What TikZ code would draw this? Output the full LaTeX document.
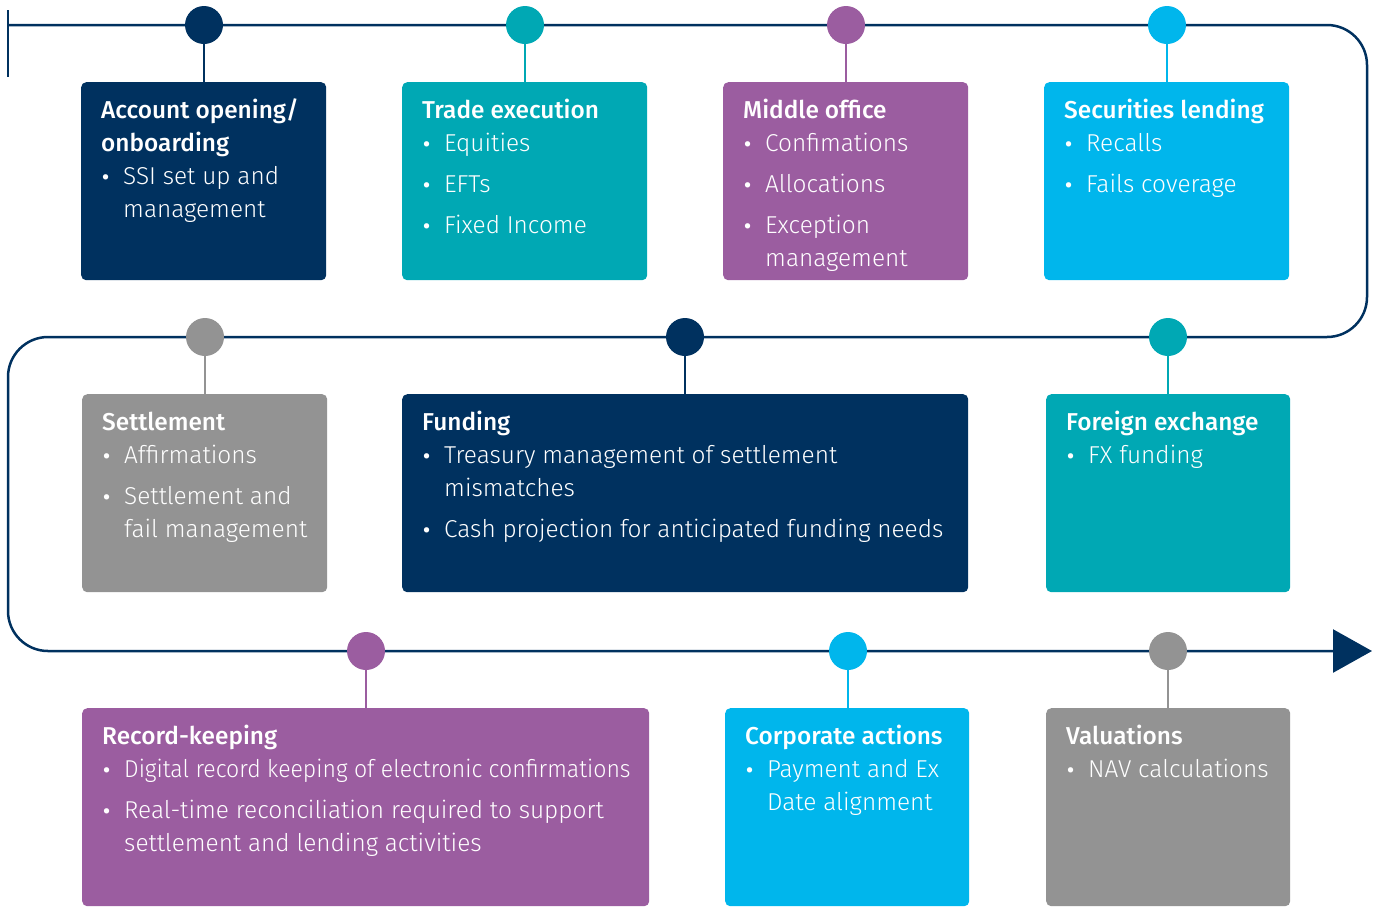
\documentclass[tikz,border=0pt]{standalone}
\usepackage{fontspec}
\setmainfont{Fira Sans}[UprightFont=* Light,BoldFont=* Medium]
\usetikzlibrary{arrows.meta}
\definecolor{navy}{HTML}{00315F}
\definecolor{teal}{HTML}{00A8B4}
\definecolor{purp}{HTML}{9B5DA0}
\definecolor{sky}{HTML}{00B6EC}
\definecolor{grey}{HTML}{939393}
\newcommand\ttl[1]{\multicolumn{2}{@{}l@{}}{\bfseries #1}}
\newcommand\bul{\hspace{1pt}{\fontsize{21}{21}\selectfont\bfseries\textbullet}}
\newcommand\blk[1]{\begin{tabular}[t]{@{}p{22pt}@{}l@{}}#1\end{tabular}}
\begin{document}
\begin{tikzpicture}[x=1pt,y=-1pt,
  line/.style={draw=navy,line width=2.5pt},
  dot/.style={circle,fill=#1,minimum size=38pt,inner sep=0pt},
  stem/.style={draw=#1,line width=2.5pt},
  card/.style={fill=#1,rounded corners=5pt,inner sep=0pt,minimum height=198pt,anchor=north west},
  txt/.style={text=white,anchor=base west,inner sep=0pt,font=\fontsize{24.4}{33}\selectfont}
]
\useasboundingbox (0,0) rectangle (1381,906);
% timeline
\coordinate (tk1) at (8,10);
\coordinate (tk2) at (8,77);
\coordinate (s) at (8,25);
\coordinate (tr1) at (1367,25);
\coordinate (tr2) at (1367,337);
\coordinate (ml) at (8,337);
\coordinate (bl) at (8,651);
\coordinate (e) at (1372,651);
\draw[line] (tk1) -- (tk2);
\draw[line,rounded corners=40pt,-{Triangle[length=39pt,width=43pt]}] (s) -- (tr1) -- (tr2) -- (ml) -- (bl) -- (e);
% cards
\node[card=navy,minimum width=245pt] (c1) at (81,82) {};
\node[card=teal,minimum width=245pt] (c2) at (402,82) {};
\node[card=purp,minimum width=245pt] (c3) at (723,82) {};
\node[card=sky,minimum width=245pt] (c4) at (1044,82) {};
\node[card=grey,minimum width=245pt] (c5) at (82,394) {};
\node[card=navy,minimum width=566pt] (c6) at (402,394) {};
\node[card=teal,minimum width=244pt] (c7) at (1046,394) {};
\node[card=purp,minimum width=567pt] (c8) at (82,708) {};
\node[card=sky,minimum width=244pt] (c9) at (725,708) {};
\node[card=grey,minimum width=244pt] (c10) at (1046,708) {};
% dots
\node[dot=navy] (d1) at (204,25) {};
\node[dot=teal] (d2) at (525,25) {};
\node[dot=purp] (d3) at (846,25) {};
\node[dot=sky] (d4) at (1167,25) {};
\node[dot=grey] (d5) at (205,337) {};
\node[dot=navy] (d6) at (685,337) {};
\node[dot=teal] (d7) at (1168,337) {};
\node[dot=purp] (d8) at (366,651) {};
\node[dot=sky] (d9) at (848,651) {};
\node[dot=grey] (d10) at (1168,651) {};
% stems
\draw[stem=navy] (d1.south) -- (d1.south |- c1.north);
\draw[stem=teal] (d2.south) -- (d2.south |- c2.north);
\draw[stem=purp] (d3.south) -- (d3.south |- c3.north);
\draw[stem=sky] (d4.south) -- (d4.south |- c4.north);
\draw[stem=grey] (d5.south) -- (d5.south |- c5.north);
\draw[stem=navy] (d6.south) -- (d6.south |- c6.north);
\draw[stem=teal] (d7.south) -- (d7.south |- c7.north);
\draw[stem=purp] (d8.south) -- (d8.south |- c8.north);
\draw[stem=sky] (d9.south) -- (d9.south |- c9.north);
\draw[stem=grey] (d10.south) -- (d10.south |- c10.north);
% texts
\node[txt] (t1) at (101,118) {\blk{\ttl{Account opening/}\\ \ttl{onboarding}\\ \bul & SSI set up and\\ & management}};
\node[txt] (t2) at (422,118) {\blk{\ttl{Trade execution}\\ \bul & Equities\\[8pt] \bul & EFTs\\[8pt] \bul & Fixed Income}};
\node[txt] (t3) at (743,118) {\blk{\ttl{Middle office}\\ \bul & Confimations\\[8pt] \bul & Allocations\\[8pt] \bul & Exception\\ & management}};
\node[txt] (t4) at (1064,118) {\blk{\ttl{Securities lending}\\ \bul & Recalls\\[8pt] \bul & Fails coverage}};
\node[txt] (t5) at (102,430) {\blk{\ttl{Settlement}\\ \bul & Affirmations\\[8pt] \bul & Settlement and\\ & fail management}};
\node[txt] (t6) at (422,430) {\blk{\ttl{Funding}\\ \bul & Treasury management of settlement\\ & mismatches\\[8pt] \bul & Cash projection for anticipated funding needs}};
\node[txt] (t7) at (1066,430) {\blk{\ttl{Foreign exchange}\\ \bul & FX funding}};
\node[txt] (t8) at (102,744) {\blk{\ttl{Record-keeping}\\ \bul & \scalebox{0.944}[1]{Digital record keeping of electronic confirmations}\\[8pt] \bul & Real-time reconciliation required to support\\ & settlement and lending activities}};
\node[txt] (t9) at (745,744) {\blk{\ttl{Corporate actions}\\ \bul & Payment and Ex\\ & Date alignment}};
\node[txt] (t10) at (1066,744) {\blk{\ttl{Valuations}\\ \bul & NAV calculations}};
\end{tikzpicture}
\end{document}
